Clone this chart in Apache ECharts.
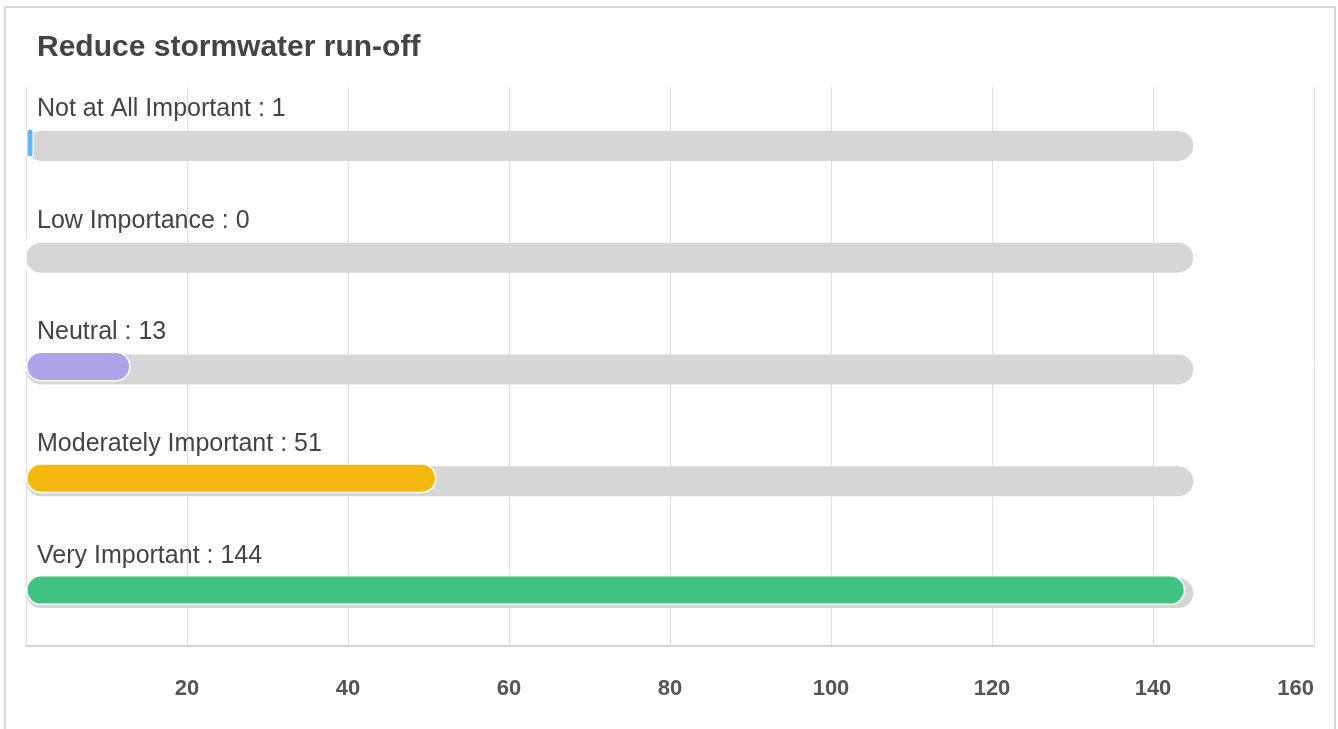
<!DOCTYPE html>
<html>
<head>
<meta charset="utf-8">
<script src="https://cdn.jsdelivr.net/npm/echarts@6/dist/echarts.min.js"></script>
<style>
html,body{margin:0;padding:0;background:#fff;overflow:hidden;}
#frame{position:absolute;left:4px;top:6px;width:1328px;height:740px;border:2px solid #d8d8d8;border-bottom:none;}
#chart{position:absolute;left:0;top:0;width:1338px;height:729px;}
</style>
</head>
<body>
<div id="frame"></div>
<div id="chart"></div>
<script>
var titleText = 'Reduce stormwater run-off';
var categories = ['Not at All Important', 'Low Importance', 'Neutral', 'Moderately Important', 'Very Important'];
var values = [1, 0, 13, 51, 144];
var backgroundValues = [145, 145, 145, 145, 145];
var barColors = ['#64b5f6', '#9e9e9e', '#aca4e6', '#f3b90f', '#3fc380'];
var xTicks = {min: 0, max: 160, interval: 20};

var chart = echarts.init(document.getElementById('chart'));
chart.setOption({
  animation: false,
  title: {
    text: titleText,
    left: 32, top: 28,
    textStyle: {fontFamily: 'Liberation Sans, Arial, sans-serif', fontSize: 30, fontWeight: 'bold', color: '#444'}
  },
  grid: [
    {left: 26, top: 87, width: 1288, height: 559},
    {left: 26, top: 90, width: 1288, height: 559}
  ],
  xAxis: [
    {
      gridIndex: 0, type: 'value', min: xTicks.min, max: xTicks.max, interval: xTicks.interval,
      axisLine: {show: true, lineStyle: {color: '#d4d4d4', width: 2}},
      axisTick: {show: false},
      axisLabel: {showMinLabel: false, alignMaxLabel: 'right', margin: 32, fontFamily: 'Liberation Sans, Arial, sans-serif', fontSize: 22, fontWeight: 'bold', color: '#555'},
      splitLine: {show: true, lineStyle: {color: '#dedede', width: 1}}
    },
    {
      gridIndex: 1, type: 'value', min: xTicks.min, max: xTicks.max, interval: xTicks.interval,
      show: false
    }
  ],
  yAxis: [
    {gridIndex: 0, type: 'category', data: categories, inverse: true, show: false},
    {gridIndex: 1, type: 'category', data: categories, inverse: true, show: false}
  ],
  series: [
    {
      type: 'bar', xAxisIndex: 1, yAxisIndex: 1,
      data: backgroundValues,
      barWidth: 30,
      itemStyle: {color: '#d6d6d6', borderRadius: 15},
      silent: true,
      z: 1,
      label: {
        show: true,
        position: [11, -22],
        align: 'left',
        verticalAlign: 'middle',
        fontFamily: 'Liberation Sans, Arial, sans-serif',
        fontSize: 25,
        color: '#444',
        formatter: function (p) { return categories[p.dataIndex] + ' : ' + values[p.dataIndex]; }
      }
    },
    {
      type: 'bar', xAxisIndex: 0, yAxisIndex: 0,
      data: values.map(function (v, i) { return {value: v, itemStyle: {color: barColors[i]}}; }),
      barWidth: 30,
      itemStyle: {borderRadius: 15, borderColor: '#fff', borderWidth: 1.5},
      z: 2
    }
  ]
});
</script>
</body>
</html>
